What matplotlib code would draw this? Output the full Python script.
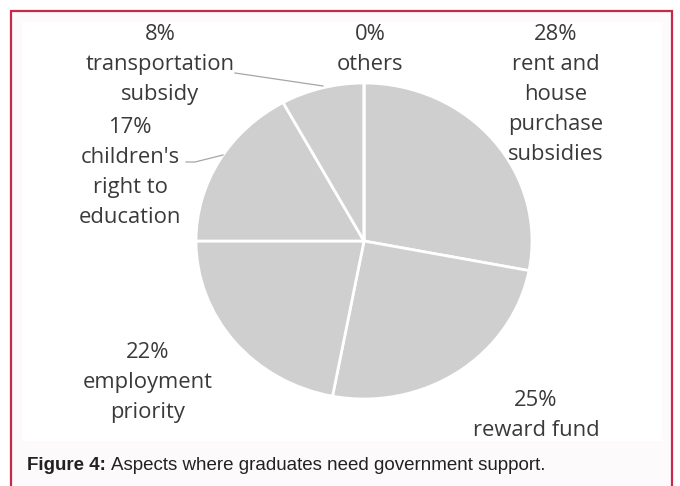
import matplotlib
matplotlib.use("Agg")
import matplotlib.pyplot as plt
from matplotlib.patches import Rectangle

# support categories and their shares (%)
categories = ["rent and\nhouse\npurchase\nsubsidies", "reward fund",
              "employment\npriority", "children's\nright to\neducation",
              "transportation\nsubsidy", "others"]
shares = [28, 25, 22, 17, 8, 0]

# label anchor points in pixels (x, y from top) for each category
label_pos = [(556, 24), (536, 390), (148, 342), (130, 117), (160, 24), (370, 24)]

W, H = 680, 486
fig = plt.figure(figsize=(W / 100, H / 100), dpi=100)
fig.patch.set_facecolor("white")


def px(x, y):
    return x / W, 1 - y / H


# outer frame, soft panel, white plot area
fig.patches.append(Rectangle(px(11, 500), 661 / W, 489 / H, transform=fig.transFigure,
                             facecolor="#fcfafb", edgecolor="#c8284a", lw=1.6, zorder=-2))
fig.patches.append(Rectangle(px(22, 441), 640 / W, 419 / H, transform=fig.transFigure,
                             facecolor="white", edgecolor="none", zorder=-1))

# pie area (slightly wider than tall)
cx, cy, rx, ry = 364, 241, 168, 158
ax = fig.add_axes([(cx - rx) / W, (H - cy - ry) / H, 2 * rx / W, 2 * ry / H])
ax.patch.set_alpha(0)
ax.pie(shares, startangle=90, counterclock=False, colors=["#d0cfd0"] * len(shares),
       wedgeprops=dict(edgecolor="white", linewidth=2))
ax.set_xlim(-1, 1)
ax.set_ylim(-1, 1)
ax.set_aspect("auto")
ax.axis("off")

font = dict(family=["Open Sans", "DejaVu Sans"], fontsize=15.8, color="#3a3a3a")
for cat, val, (x, y) in zip(categories, shares, label_pos):
    fig.text(*px(x, y), f"{val}%\n{cat}", ha="center", va="top",
             linespacing=1.56, **font)

# leader lines for the two labels sitting off their wedges
fig.add_artist(plt.Line2D([235 / W, 323 / W], [1 - 73 / H, 1 - 86 / H],
                          color="#a6a6a6", lw=0.9))
fig.add_artist(plt.Line2D([186 / W, 195 / W, 223 / W], [1 - 162 / H, 1 - 162 / H, 1 - 155 / H],
                          color="#a6a6a6", lw=0.9))

# caption: bold figure tag followed by plain text
cap = dict(fontsize=13.5, family="Liberation Sans", color="#222222", va="center")
tag = fig.text(*px(27, 465), "Figure 4:", fontweight="bold", **cap)
bb = tag.get_window_extent(fig.canvas.get_renderer())
fig.text(bb.x1 / W + 5 / W, 1 - 465 / H,
         "Aspects where graduates need government support.", **cap)

fig.savefig("out.png", dpi=100)
